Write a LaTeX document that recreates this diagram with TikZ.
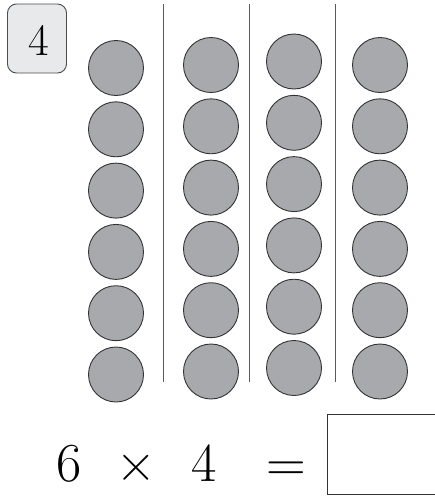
\documentclass[tikz,border=0pt]{standalone}
\usepackage{fontspec}
\begin{document}
\begin{tikzpicture}[x=1pt,y=-1pt,
  dot/.style={circle,draw=black!80,line width=0.9pt,fill=dotgray,minimum size=55pt,inner sep=0pt},
  sep/.style={draw=black!65,line width=0.9pt},
  eq/.style={font=\fontsize{55}{55}\selectfont,anchor=base,inner sep=0pt}]
\definecolor{dotgray}{HTML}{A7A9AC}
\definecolor{boxgray}{HTML}{E8E9EA}
\useasboundingbox (0,0) rectangle (435,496);
\node[draw=black!70,line width=0.9pt,fill=boxgray,rounded corners=9pt,minimum width=59pt,minimum height=69pt,inner sep=0pt] (box) at (37,38.5) {};
\node[font=\fontsize{45}{45}\selectfont,anchor=base,inner sep=0pt] (num) at (39,55) {4};
% columns
\foreach \c/\x/\y in {1/116/68,2/211/65,3/294/61.5,4/380/65}{
  \foreach \r in {0,...,5}{
    \node[dot] (d\c\r) at (\x,\y+61.3*\r) {};
  }
}
\coordinate (l1t) at (163,4); \coordinate (l1b) at (163,382);
\coordinate (l2t) at (249,4); \coordinate (l2b) at (249,382);
\coordinate (l3t) at (335,4); \coordinate (l3b) at (335,382);
\draw[sep] (l1t) -- (l1b);
\draw[sep] (l2t) -- (l2b);
\draw[sep] (l3t) -- (l3b);
% equation
\node[eq] (six) at (69,481) {6};
\node[eq] (times) at (136,481) {×};
\node[eq] (four) at (204,481) {4};
\node[eq] (equals) at (286,481) {=};
\node[draw=black!80,line width=0.9pt,minimum width=112pt,minimum height=80pt,inner sep=0pt,anchor=north west] (ans) at (327,414) {};
\end{tikzpicture}
\end{document}
